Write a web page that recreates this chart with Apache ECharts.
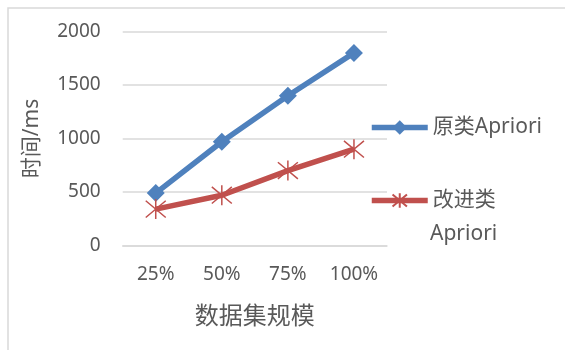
<!DOCTYPE html>
<html>
<head>
<meta charset="utf-8">
<script src="https://cdn.jsdelivr.net/npm/echarts@6/dist/echarts.min.js"></script>
<style>html,body{margin:0;padding:0;background:#fff}#c{width:565px;height:350px}</style>
</head>
<body>
<div id="c"></div>
<script>
var categories = ['25%', '50%', '75%', '100%'];
var seriesNames = ['原类Apriori', '改进类Apriori'];
var originalValues = [490, 970, 1400, 1800];
var improvedValues = [340, 470, 700, 900];
var yTicks = [0, 500, 1000, 1500, 2000];

var FONT = '"Noto Sans", "Noto Sans CJK SC", sans-serif';
var TXT = '#595959';
var starPath = 'path://M0,0 L10,10 M10,0 L0,10 M5,-1 L5,11';

var chart = echarts.init(document.getElementById('c'), null, {renderer: 'canvas'});
chart.setOption({
  backgroundColor: '#fff',
  animation: false,
  textStyle: {fontFamily: FONT},
  graphic: [
    {type: 'polyline', shape: {points: [[8, 400], [8, 8], [600, 8]]},
     style: {stroke: '#d9d9d9', lineWidth: 1.5, fill: null}},
    {type: 'text', left: 430, top: 224,
     style: {text: 'Apriori', font: '21px ' + FONT, fill: TXT}}
  ],
  grid: {left: 122.7, right: 178, top: 31.5, bottom: 104.5},
  legend: [
    {data: [seriesNames[0]], left: 369, top: 117, orient: 'vertical', padding: 0,
     itemWidth: 56, itemHeight: 18,
     lineStyle: {width: 5.5},
     textStyle: {fontSize: 21, color: TXT, fontFamily: FONT}},
    {data: [seriesNames[1]], left: 369, top: 190, orient: 'vertical', padding: 0,
     itemWidth: 56, itemHeight: 18,
     lineStyle: {width: 5.5},
     formatter: function () { return '改进类'; },
     textStyle: {fontSize: 21, color: TXT, fontFamily: FONT}}
  ],
  xAxis: {
    type: 'category', data: categories, boundaryGap: true,
    axisLine: {show: true, lineStyle: {color: '#d9d9d9', width: 1.5}},
    axisTick: {show: false},
    axisLabel: {fontSize: 19, color: TXT, margin: 20, fontFamily: FONT},
    name: '数据集规模', nameLocation: 'middle', nameGap: 60,
    nameTextStyle: {fontSize: 24, color: TXT, fontFamily: FONT}
  },
  yAxis: {
    type: 'value', min: yTicks[0], max: yTicks[yTicks.length - 1], interval: 500,
    axisLine: {show: false}, axisTick: {show: false},
    splitLine: {lineStyle: {color: '#d9d9d9', width: 1.5}},
    axisLabel: {fontSize: 19, color: TXT, margin: 22, fontFamily: FONT,
                formatter: function (v) { return String(v); }},
    name: '时间/ms', nameLocation: 'middle', nameGap: 80, nameRotate: 90,
    nameTextStyle: {fontSize: 21, color: TXT, fontFamily: FONT}
  },
  series: [
    {name: seriesNames[0], type: 'line', data: originalValues,
     symbol: 'diamond', symbolSize: 18,
     lineStyle: {color: '#4F81BD', width: 5.5},
     itemStyle: {color: '#4F81BD'}},
    {name: seriesNames[1], type: 'line', data: improvedValues,
     symbol: starPath, symbolSize: 20,
     lineStyle: {color: '#C0504D', width: 5.5},
     itemStyle: {color: '#C0504D', borderColor: '#C0504D', borderWidth: 1.5}}
  ]
});
</script>
</body>
</html>
